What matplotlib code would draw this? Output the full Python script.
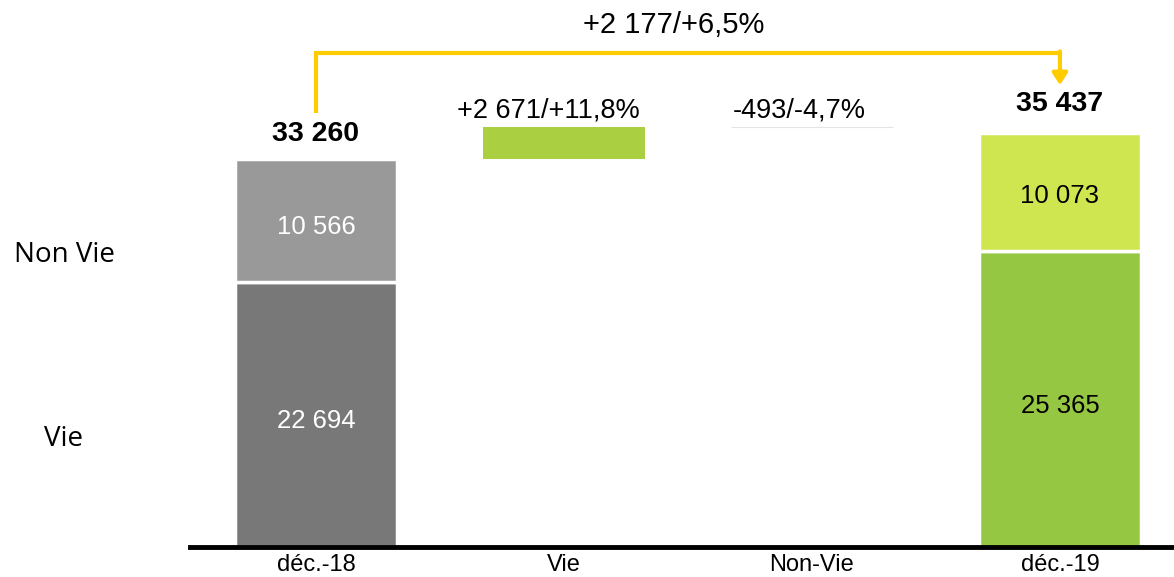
import matplotlib
matplotlib.use('Agg')
import matplotlib.pyplot as plt

# ---- data ----
categories = ['déc.-18', 'Vie', 'Non-Vie', 'déc.-19']
segment_names = ['Vie', 'Non Vie']
start_vie = 22694
start_nonvie = 10566
end_vie = 25365
end_nonvie = 10073
delta_vie = 2671
delta_nonvie = -493
delta_labels = ['+2 671/+11,8%', '-493/-4,7%']
start_total = 33260
end_total = 35437
total_change_label = '+2 177/+6,5%'


def fmt(v):
    return f'{v:,}'.replace(',', '\u00a0')


# ---- style ----
ARIAL = ['Liberation Sans', 'DejaVu Sans']
CALIBRI = ['Open Sans', 'DejaVu Sans']
C_GREY_DARK = '#787878'
C_GREY_LIGHT = '#999999'
C_GREEN_UP = '#aacf41'
C_GREEN_DARK = '#95c743'
C_GREEN_LIGHT = '#cfe650'
C_ARROW = '#ffcc00'

W, H = 1174, 577
fig = plt.figure(figsize=(W / 100, H / 100), dpi=100)
ax = fig.add_axes([190 / W, 30 / H, 984 / W, 547 / H])
ax.set_xlim(-0.508, 3.46)
ax.set_ylim(0, 46830)

x = list(range(len(categories)))
bw = 0.65
SEP = 2.5

# start bar
ax.bar(x[0], start_vie, bw, color=C_GREY_DARK, edgecolor='white', linewidth=SEP)
ax.bar(x[0], start_nonvie, bw, bottom=start_vie, color=C_GREY_LIGHT,
       edgecolor='white', linewidth=SEP)
# Vie delta (floating)
ax.bar(x[1], delta_vie, bw, bottom=start_total, color=C_GREEN_UP, linewidth=0)
# Non-Vie delta (invisible white bar with faint top line)
nv_top = start_total + delta_vie
ax.bar(x[2], -delta_nonvie, bw, bottom=nv_top + delta_nonvie, color='white', linewidth=0)
ax.hlines(nv_top, x[2] - bw / 2, x[2] + bw / 2, color='#e4e4e4', lw=0.8)
# end bar
ax.bar(x[3], end_vie, bw, color=C_GREEN_DARK, edgecolor='white', linewidth=SEP)
ax.bar(x[3], end_nonvie, bw, bottom=end_vie, color=C_GREEN_LIGHT,
       edgecolor='white', linewidth=SEP)

# values inside bars
VAL_FS = 18.5
ax.annotate(fmt(start_vie), (x[0], start_vie / 2), xytext=(0, -5), textcoords='offset points',
            ha='center', va='center', fontsize=VAL_FS, color='white', family=ARIAL)
ax.annotate(fmt(start_nonvie), (x[0], start_vie + start_nonvie / 2), xytext=(0, -5),
            textcoords='offset points', ha='center', va='center', fontsize=VAL_FS,
            color='white', family=ARIAL)
ax.annotate(fmt(end_vie), (x[3], end_vie / 2), xytext=(0, -5), textcoords='offset points',
            ha='center', va='center', fontsize=VAL_FS, color='black', family=ARIAL)
ax.annotate(fmt(end_nonvie), (x[3], end_vie + end_nonvie / 2), xytext=(0, -3),
            textcoords='offset points', ha='center', va='center', fontsize=VAL_FS,
            color='black', family=ARIAL)

# totals
ax.annotate(fmt(start_total), (x[0], start_total), xytext=(0, 18), textcoords='offset points',
            ha='center', va='center', fontsize=20.5, fontweight='bold', family=ARIAL)
ax.annotate(fmt(end_total), (x[3], end_total), xytext=(0, 21), textcoords='offset points',
            ha='center', va='center', fontsize=20.5, fontweight='bold', family=ARIAL)

# delta labels
ax.annotate(delta_labels[0], (x[1], start_total + delta_vie), xytext=(-11, 12),
            textcoords='offset points', ha='center', va='center', fontsize=19.5, family=ARIAL)
ax.annotate(delta_labels[1], (x[2], nv_top), xytext=(-9, 12),
            textcoords='offset points', ha='center', va='center', fontsize=19.5, family=ARIAL)

# bracket arrow
y_start = start_total + 3900
y_level = 42300
y_tip = end_total + 4100
ax.plot([x[0], x[0], x[3]], [y_start, y_level, y_level], color=C_ARROW, lw=3,
        solid_joinstyle='miter', solid_capstyle='butt')
ax.annotate('', xy=(x[3], y_tip), xytext=(x[3], y_level + 130),
            arrowprops=dict(arrowstyle='-|>,head_length=0.7,head_width=0.45',
                            color=C_ARROW, lw=3, shrinkA=0, shrinkB=0))
ax.annotate(total_change_label, ((x[0] + x[3]) / 2, y_level), xytext=(-10, 20),
            textcoords='offset points', ha='center', va='center', fontsize=21, family=ARIAL)

# left segment labels
ax.annotate(segment_names[1], (64 / W, start_vie + start_nonvie / 2),
            xycoords=('figure fraction', 'data'), xytext=(0, -25), textcoords='offset points',
            ha='center', va='center', fontsize=20, family=CALIBRI)
ax.annotate(segment_names[0], (64 / W, start_vie / 2),
            xycoords=('figure fraction', 'data'), xytext=(0, -18), textcoords='offset points',
            ha='center', va='center', fontsize=20, family=CALIBRI)

# axes styling
for s in ['top', 'right', 'left']:
    ax.spines[s].set_visible(False)
ax.spines['bottom'].set_linewidth(3.5)
ax.spines['bottom'].set_color('black')
ax.set_yticks([])
ax.set_xticks(x)
ax.set_xticklabels(categories, fontsize=17, family=ARIAL)
ax.tick_params(axis='x', length=0, pad=5)

fig.savefig('out.png', dpi=100)
